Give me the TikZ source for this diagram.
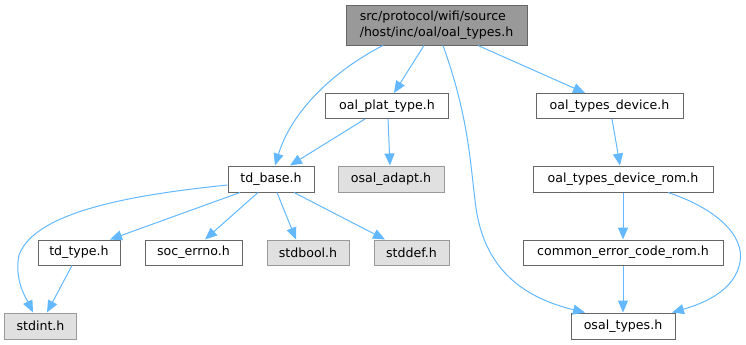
\documentclass[tikz,border=0pt]{standalone}
\usepackage{fontspec}
\setmainfont{DejaVu Sans}
\usetikzlibrary{arrows.meta}
\definecolor{edgec}{HTML}{63B8FF}
\definecolor{bwhite}{HTML}{666666}
\definecolor{bgray}{HTML}{999999}
\definecolor{fgray}{HTML}{E0E0E0}
\tikzset{
  box/.style={draw=bwhite, fill=white, line width=1bp, inner sep=0pt, minimum height=25bp, font=\fontsize{12.65}{16}\selectfont},
  sysbox/.style={box, draw=bgray, fill=fgray},
  rootbox/.style={box, draw=bwhite, fill=bgray, align=left},
  edge/.style={draw=edgec, line width=1bp, -{Triangle[length=12bp,width=10bp]}},
}
\begin{document}
\begin{tikzpicture}[x=1bp,y=-1bp]
\useasboundingbox (0,0) rectangle (746,344);
\node[rootbox, minimum width=181bp, minimum height=40bp] (root) at (436.5,25) {src/protocol/wifi/source\\/host/inc/oal/oal\_types.h};
\node[box, minimum width=123bp] (plat) at (387,106) {oal\_plat\_type.h};
\node[box, minimum width=147bp] (dev) at (609.5,106) {oal\_types\_device.h};
\node[box, minimum width=86bp, minimum height=26bp] (tdb) at (271,179) {td\_base.h};
\node[sysbox, minimum width=106bp, minimum height=26bp] (adapt) at (391,179) {osal\_adapt.h};
\node[box, minimum width=180bp, minimum height=26bp] (rom) at (623,179) {oal\_types\_device\_rom.h};
\node[box, minimum width=82bp] (tdtype) at (79,252.5) {td\_type.h};
\node[box, minimum width=97bp] (soc) at (193.5,252.5) {soc\_errno.h};
\node[sysbox, minimum width=82bp] (bool) at (308,252.5) {stdbool.h};
\node[sysbox, minimum width=75bp] (def) at (411.5,252.5) {stddef.h};
\node[box, minimum width=200bp] (common) at (623,252.5) {common\_error\_code\_rom.h};
\node[sysbox, minimum width=71bp, minimum height=26bp] (stdint) at (40.5,326) {stdint.h};
\node[box, minimum width=104bp, minimum height=26bp] (osal) at (623,326) {osal\_types.h};

\draw[edge] ([xshift=-12.5bp]root.south) -- ([xshift=7bp]plat.north);
\draw[edge] ([xshift=41.5bp]root.south) -- ([xshift=-24.5bp]dev.north);
\draw[edge] ([xshift=-53.5bp]root.south) .. controls (335,70) and (292,110) .. ([xshift=4bp]tdb.north);
\draw[edge] ([xshift=6.5bp]root.south) .. controls (468,115) and (470,160) .. (475,200) .. controls (482,270) and (525,298) .. ([xshift=-38bp]osal.north);
\draw[edge] ([xshift=-22bp]plat.south) -- ([xshift=19bp]tdb.north);
\draw[edge] ([xshift=1bp]plat.south) -- ([xshift=-1bp]adapt.north);
\draw[edge] ([xshift=2.5bp]dev.south) -- ([xshift=-3bp]rom.north);
\draw[edge] (rom) -- (common);
\draw[edge] (common) -- (osal);
\draw[edge] ([xshift=45bp]rom.south) .. controls (715,208) and (745,235) .. (740,262) .. controls (735,290) and (705,303) .. ([xshift=49bp]osal.north);
\draw[edge] ([yshift=-6bp]tdb.west) .. controls (130,195) and (35,212) .. (19,255) .. controls (14,280) and (26,298) .. ([xshift=-7.5bp]stdint.north);
\draw[edge] ([xshift=-31bp]tdb.south) -- ([xshift=31bp]tdtype.north);
\draw[edge] ([xshift=-13bp]tdb.south) -- ([xshift=11.5bp]soc.north);
\draw[edge] ([xshift=6bp]tdb.south) -- ([xshift=-12bp]bool.north);
\draw[edge] ([xshift=23bp]tdb.south) -- ([xshift=-26.5bp]def.north);
\draw[edge] ([xshift=-7bp]tdtype.south) -- ([xshift=6.5bp]stdint.north);
\end{tikzpicture}
\end{document}
